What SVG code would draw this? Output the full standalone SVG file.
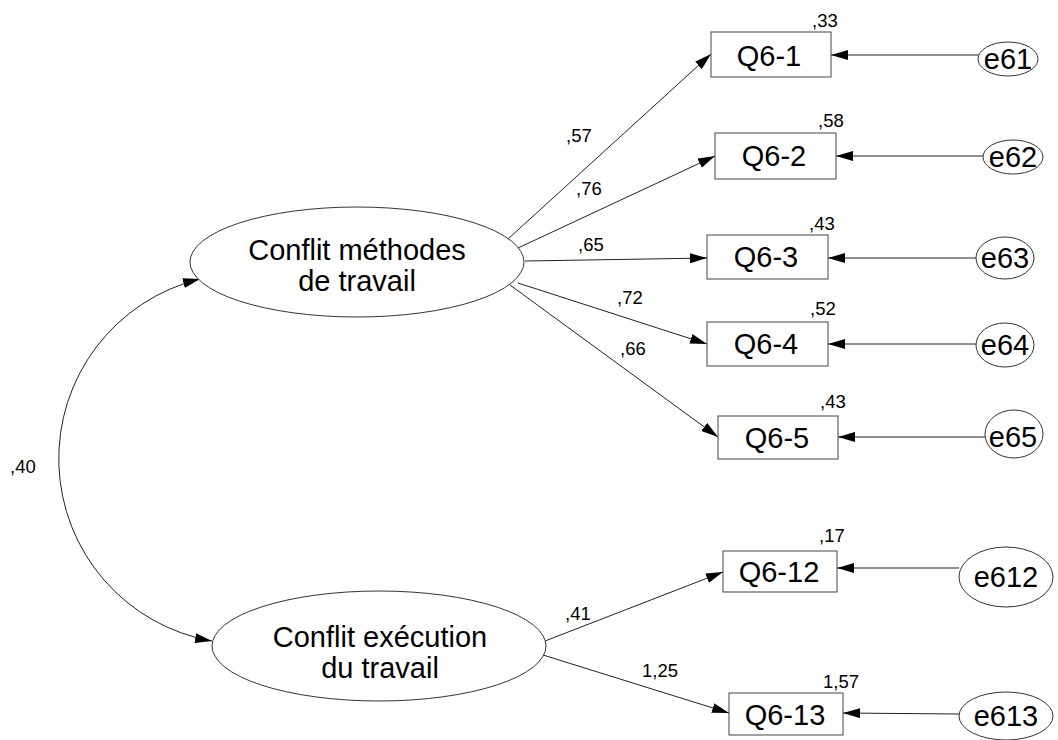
<svg xmlns="http://www.w3.org/2000/svg" width="1058" height="740" viewBox="0 0 1058 740">
  <defs>
    <marker id="arrow" markerUnits="userSpaceOnUse" markerWidth="17" markerHeight="10" refX="17" refY="5" orient="auto-start-reverse">
      <path d="M0,0 L17,5 L0,10 Z" fill="#000"/>
    </marker>
    <style>
      .box { fill: #fff; stroke: #444; stroke-width: 1; }
      .lat { fill: #fff; stroke: #333; stroke-width: 1; }
      .err { fill: #fff; stroke: #333; stroke-width: 1; }
      .edge { fill: none; stroke: #222; stroke-width: 1; marker-end: url(#arrow); }
      .lbl { font-family: "Liberation Sans", Arial, sans-serif; font-size: 29px; fill: #000; text-anchor: middle; }
      .num { font-family: "Liberation Sans", Arial, sans-serif; font-size: 18.5px; fill: #000; }
    </style>
  </defs>
  <rect width="1058" height="740" fill="#fff"/>

  <!-- connectors -->
  <g id="connectors">
    <!-- factor loadings -->
    <line class="edge" x1="508" y1="239" x2="711" y2="54"/>
    <line class="edge" x1="518" y1="248" x2="715" y2="156"/>
    <line class="edge" x1="525" y1="261" x2="707" y2="258"/>
    <line class="edge" x1="518" y1="283" x2="707" y2="344"/>
    <line class="edge" x1="510" y1="285" x2="718" y2="437"/>
    <line class="edge" x1="545" y1="641" x2="723" y2="572"/>
    <line class="edge" x1="543" y1="655" x2="729" y2="713"/>
    <!-- error terms -->
    <line class="edge" x1="979" y1="55" x2="831" y2="55"/>
    <line class="edge" x1="984" y1="156" x2="836" y2="156"/>
    <line class="edge" x1="976" y1="258" x2="828" y2="258"/>
    <line class="edge" x1="976" y1="344" x2="828" y2="344"/>
    <line class="edge" x1="988" y1="437" x2="838" y2="437"/>
    <line class="edge" x1="959" y1="568" x2="837" y2="568"/>
    <line class="edge" x1="959" y1="714" x2="843" y2="713"/>
    <!-- covariance between factors -->
    <path class="edge" style="marker-start: url(#arrow)" d="M200,279 A185,185 0 0 0 212,641"/>
  </g>

  <!-- latent factors -->
  <g id="f-methodes">
    <ellipse class="lat" cx="357" cy="262" rx="167" ry="55"/>
    <text class="lbl" x="357" y="260">Conflit méthodes</text>
    <text class="lbl" x="357" y="291">de travail</text>
  </g>
  <g id="f-execution">
    <ellipse class="lat" cx="379" cy="646" rx="167" ry="55"/>
    <text class="lbl" x="380" y="647">Conflit exécution</text>
    <text class="lbl" x="380" y="678">du travail</text>
  </g>

  <!-- observed items -->
  <g id="q6-1">
    <rect class="box" x="711" y="32" width="120" height="45"/>
    <text class="lbl" x="769" y="66">Q6-1</text>
  </g>
  <g id="q6-2">
    <rect class="box" x="715" y="133" width="121" height="46"/>
    <text class="lbl" x="774" y="166">Q6-2</text>
  </g>
  <g id="q6-3">
    <rect class="box" x="707" y="235" width="121" height="44"/>
    <text class="lbl" x="766" y="267">Q6-3</text>
  </g>
  <g id="q6-4">
    <rect class="box" x="707" y="322" width="121" height="44"/>
    <text class="lbl" x="766" y="354">Q6-4</text>
  </g>
  <g id="q6-5">
    <rect class="box" x="718" y="416" width="120" height="43"/>
    <text class="lbl" x="777" y="448">Q6-5</text>
  </g>
  <g id="q6-12">
    <rect class="box" x="723" y="551" width="114" height="41"/>
    <text class="lbl" x="779" y="582">Q6-12</text>
  </g>
  <g id="q6-13">
    <rect class="box" x="729" y="693" width="114" height="42"/>
    <text class="lbl" x="785" y="725">Q6-13</text>
  </g>

  <!-- error terms -->
  <g id="e61">
    <ellipse class="err" cx="1008" cy="59" rx="30" ry="17"/>
    <text class="lbl" x="1008" y="69">e61</text>
  </g>
  <g id="e62">
    <ellipse class="err" cx="1013" cy="157" rx="30" ry="17"/>
    <text class="lbl" x="1013" y="167">e62</text>
  </g>
  <g id="e63">
    <ellipse class="err" cx="1005" cy="258" rx="29" ry="21"/>
    <text class="lbl" x="1005" y="268">e63</text>
  </g>
  <g id="e64">
    <ellipse class="err" cx="1005" cy="345" rx="29" ry="22"/>
    <text class="lbl" x="1005" y="355">e64</text>
  </g>
  <g id="e65">
    <ellipse class="err" cx="1014" cy="434" rx="29" ry="24"/>
    <text class="lbl" x="1013" y="447">e65</text>
  </g>
  <g id="e612">
    <ellipse class="err" cx="1006" cy="577" rx="47" ry="30"/>
    <text class="lbl" x="1006" y="587">e612</text>
  </g>
  <g id="e613">
    <ellipse class="err" cx="1006" cy="716" rx="47" ry="24"/>
    <text class="lbl" x="1006" y="726">e613</text>
  </g>

  <!-- estimates -->
  <g id="estimates">
    <text class="num" x="566" y="142">,57</text>
    <text class="num" x="576" y="195">,76</text>
    <text class="num" x="578" y="251">,65</text>
    <text class="num" x="617" y="304">,72</text>
    <text class="num" x="620" y="355">,66</text>
    <text class="num" x="565" y="620">,41</text>
    <text class="num" x="642" y="677">1,25</text>
    <text class="num" x="10" y="473">,40</text>
    <text class="num" x="812" y="27">,33</text>
    <text class="num" x="818" y="127">,58</text>
    <text class="num" x="809" y="230">,43</text>
    <text class="num" x="810" y="315">,52</text>
    <text class="num" x="820" y="408">,43</text>
    <text class="num" x="819" y="542">,17</text>
    <text class="num" x="823" y="688">1,57</text>
  </g>
</svg>
